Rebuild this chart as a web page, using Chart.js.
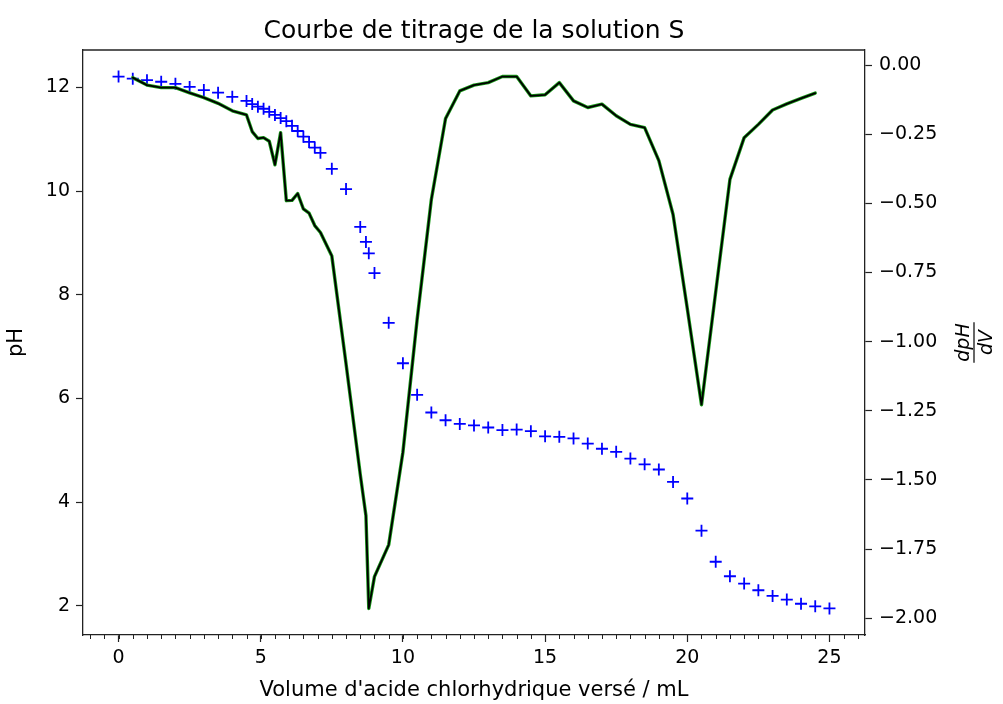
<!DOCTYPE html>
<html><head><meta charset="utf-8">
<script src="https://cdn.jsdelivr.net/npm/chart.js@4/dist/chart.umd.min.js"></script>
<style>html,body{margin:0;padding:0;background:#fff}</style>
</head><body>
<canvas id="c" width="1003" height="704"></canvas>
<script>
// ---- data ----
const volumes = [0,0.5,1,1.5,2,2.5,3,3.5,4,4.5,4.7,4.9,5.1,5.3,5.5,5.7,5.9,6.1,6.3,6.5,6.7,6.9,7.1,7.5,8,8.5,8.7,8.8,9,9.5,10,10.5,11,11.5,12,12.5,13,13.5,14,14.5,15,15.5,16,16.5,17,17.5,18,18.5,19,19.5,20,20.5,21,21.5,22,22.5,23,23.5,24,24.5,25];
const pHValues = [12.21,12.17,12.14,12.11,12.07,12.01,11.95,11.90,11.82,11.74,11.68,11.63,11.59,11.53,11.47,11.41,11.35,11.26,11.16,11.05,10.95,10.84,10.74,10.43,10.04,9.31,9.02,8.80,8.42,7.46,6.68,6.07,5.73,5.58,5.51,5.48,5.44,5.39,5.40,5.37,5.27,5.26,5.23,5.13,5.03,4.97,4.84,4.73,4.63,4.39,4.07,3.45,2.85,2.57,2.43,2.30,2.19,2.12,2.04,1.99,1.95];
const derivVolumes = [0.5,1,1.5,2,2.5,3,3.5,4,4.5,4.7,4.9,5.1,5.3,5.5,5.7,5.9,6.1,6.3,6.5,6.7,6.9,7.1,7.5,8,8.5,8.7,8.8,9,9.5,10,10.5,11,11.5,12,12.5,13,13.5,14,14.5,15,15.5,16,16.5,17,17.5,18,18.5,19,19.5,20,20.5,21,21.5,22,22.5,23,23.5,24,24.5];
const derivValues = [-0.045,-0.072,-0.081,-0.081,-0.100,-0.117,-0.138,-0.165,-0.180,-0.240,-0.265,-0.262,-0.275,-0.360,-0.244,-0.490,-0.489,-0.464,-0.520,-0.535,-0.580,-0.605,-0.690,-1.080,-1.480,-1.630,-1.965,-1.850,-1.735,-1.400,-0.920,-0.486,-0.193,-0.093,-0.072,-0.063,-0.041,-0.041,-0.111,-0.107,-0.063,-0.129,-0.153,-0.141,-0.183,-0.214,-0.226,-0.345,-0.540,-0.880,-1.228,-0.820,-0.413,-0.262,-0.214,-0.162,-0.140,-0.120,-0.101];
const xRange = [-1.25, 26.25];
const pHRange = [1.437, 12.723];
const derivRange = [-2.061, 0.055];
const xMajorStep = 5, xMinorStep = 0.5, pHStep = 2, derivStep = 0.25;
const titleText = 'Courbe de titrage de la solution S';
const xLabel = "Volume d'acide chlorhydrique versé / mL";
const yLabel = 'pH';

const FONT = "'DejaVu Sans', sans-serif";
const pHPoints = volumes.map((v, i) => ({x: v, y: pHValues[i]}));
const derivPoints = derivVolumes.map((v, i) => ({x: v, y: derivValues[i]}));

const extras = {
  id: 'extras',
  afterDatasetsDraw(chart) {
    const ctx = chart.ctx, a = chart.chartArea, xs = chart.scales.x;
    ctx.save();
    // top spine
    ctx.strokeStyle = '#222'; ctx.lineWidth = 1.3;
    ctx.beginPath(); ctx.moveTo(a.left, a.top); ctx.lineTo(a.right, a.top); ctx.stroke();
    // minor x ticks
    ctx.lineWidth = 1;
    const start = Math.ceil(xs.min / xMinorStep);
    const end = Math.floor(xs.max / xMinorStep);
    for (let k = start; k <= end; k++) {
      const px = Math.round(xs.getPixelForValue(k * xMinorStep)) + 0.5;
      ctx.beginPath(); ctx.moveTo(px, a.bottom); ctx.lineTo(px, a.bottom + 4); ctx.stroke();
    }
    // right axis label: dpH / dV fraction, rotated
    const y2 = chart.scales.y2;
    const cx = y2.right - 29, cy = (a.top + a.bottom) / 2;
    ctx.translate(cx, cy); ctx.rotate(-Math.PI / 2);
    ctx.fillStyle = '#000';
    ctx.font = "italic 19px " + FONT;
    ctx.textAlign = 'center';
    ctx.textBaseline = 'alphabetic';
    ctx.fillText('dpH', 0, -5);
    ctx.textBaseline = 'top';
    ctx.fillText('dV', 0, 4);
    const w = ctx.measureText('dpH').width + 2;
    ctx.lineWidth = 1.2; ctx.strokeStyle = '#000';
    ctx.beginPath(); ctx.moveTo(-w / 2, 0); ctx.lineTo(w / 2, 0); ctx.stroke();
    ctx.restore();
  }
};

const tickFont = {family: FONT, size: 19};
new Chart(document.getElementById('c'), {
  data: {
    datasets: [
      {type: 'line', label: 'dpH/dV', data: derivPoints, yAxisID: 'y2', borderColor: '#000000', borderWidth: 1.8, borderJoinStyle: 'round', borderCapStyle: 'round', pointRadius: 0, fill: false, tension: 0, order: 0},
      {type: 'line', label: 'dpH/dV halo', data: derivPoints, yAxisID: 'y2', borderColor: '#1a9a1a', borderWidth: 3.4, borderJoinStyle: 'round', borderCapStyle: 'round', pointRadius: 0, fill: false, tension: 0, order: 1},
      {type: 'scatter', label: 'pH', data: pHPoints, yAxisID: 'y', pointStyle: 'cross', pointRadius: 6, pointBorderWidth: 1.8, borderColor: '#0000ff', backgroundColor: '#0000ff', order: 2}
    ]
  },
  options: {
    responsive: false, animation: false, devicePixelRatio: 1,
    layout: {padding: {left: 0, right: 0, top: 0, bottom: 0}},
    plugins: {
      legend: {display: false}, tooltip: {enabled: false},
      title: {display: true, text: titleText, fullSize: false, color: '#000',
        font: {family: FONT, size: 25, weight: 'normal'}, padding: {top: 16, bottom: 4}}
    },
    scales: {
      x: {type: 'linear', position: 'bottom', min: xRange[0], max: xRange[1],
        afterFit(s) { s.height = 69; },
        grid: {drawOnChartArea: false, drawTicks: true, tickLength: 7, color: '#222', tickWidth: 1.2},
        border: {display: true, color: '#222', width: 1.3},
        ticks: {stepSize: xMajorStep, includeBounds: false, color: '#000', font: tickFont, padding: 5, maxRotation: 0},
        title: {display: true, text: xLabel, color: '#000', font: {family: FONT, size: 21}, padding: {top: 0, bottom: 1}}
      },
      y: {type: 'linear', position: 'left', min: pHRange[0], max: pHRange[1],
        afterFit(s) { s.width = 83; },
        grid: {drawOnChartArea: false, drawTicks: true, tickLength: 7, color: '#222', tickWidth: 1.2},
        border: {display: true, color: '#222', width: 1.3},
        ticks: {stepSize: pHStep, includeBounds: false, color: '#000', font: tickFont, padding: 6},
        title: {display: true, text: yLabel, color: '#000', font: {family: FONT, size: 21}, padding: {top: 4, bottom: 0}}
      },
      y2: {type: 'linear', position: 'right', min: derivRange[0], max: derivRange[1],
        afterFit(s) { s.width = 138; },
        grid: {drawOnChartArea: false, drawTicks: true, tickLength: 7, color: '#222', tickWidth: 1.2},
        border: {display: true, color: '#222', width: 1.3},
        ticks: {stepSize: derivStep, includeBounds: false, color: '#000', font: tickFont, padding: 7,
          callback: (v) => (Math.abs(v) < 1e-9 ? 0 : v).toFixed(2).replace('-', '\u2212')}
      }
    }
  },
  plugins: [extras]
});
</script>
</body></html>
